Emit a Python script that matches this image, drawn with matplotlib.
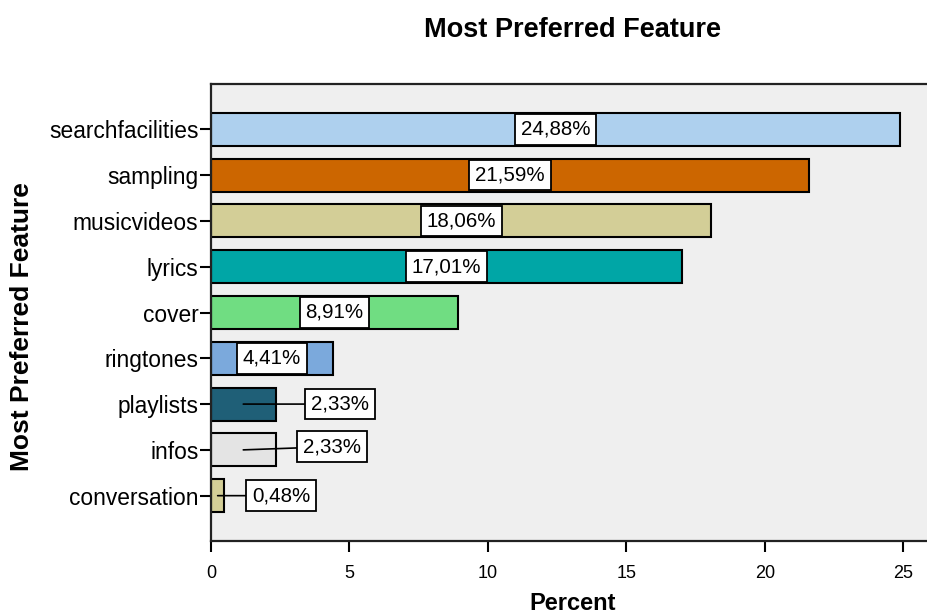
import matplotlib.pyplot as plt

plt.rcParams['font.family'] = ['Liberation Sans', 'DejaVu Sans']

features = ["searchfacilities", "sampling", "musicvideos", "lyrics", "cover",
            "ringtones", "playlists", "infos", "conversation"]
percent = [24.88, 21.59, 18.06, 17.01, 8.91, 4.41, 2.33, 2.33, 0.48]
colors = ["#aed0ee", "#cc6600", "#d3ce97", "#00a6a6", "#70dd82",
          "#7ba9dc", "#1f5f77", "#e4e4e4", "#d3ce97"]
# label positions for bars too short to hold their own label (x, y offset)
outside = {"playlists": (4.66, 0.0), "infos": (4.37, -0.07), "conversation": (2.53, 0.0)}

fig = plt.figure(figsize=(9.28, 6.15), dpi=100)
ax = fig.add_axes([211 / 928, 1 - 541 / 615, 1 - 211 / 928, (541 - 84) / 615])
ax.set_facecolor("#efefef")

ypos = list(range(len(features)))
ax.barh(ypos, percent, height=0.72, color=colors, edgecolor="black", linewidth=1.5, zorder=2)

box = dict(boxstyle="square,pad=0.28", fc="white", ec="black", lw=1.3)
for y, name, val in zip(ypos, features, percent):
    txt = f"{val:.2f}%".replace(".", ",")
    if name in outside:
        tx, dy = outside[name]
        ax.annotate(txt, xy=(val / 2, y), xytext=(tx, y + dy), ha="center", va="center",
                    fontsize=14.8, bbox=box, zorder=4,
                    arrowprops=dict(arrowstyle="-", color="black", lw=1.2, shrinkA=0, shrinkB=0))
    else:
        ax.text(val / 2, y, txt, ha="center", va="center", fontsize=14.8, bbox=box, zorder=4)

ax.set_xlim(0, (928 - 211) / 27.7)
ax.set_ylim(len(features) - 0.01, -0.99)
ax.set_yticks(ypos)
ax.set_yticklabels(features, fontsize=16.4)
ax.set_xticks([0, 5, 10, 15, 20, 25])
ax.tick_params(axis="x", labelsize=13, length=8, width=1.5, pad=9)
ax.tick_params(axis="y", length=8, width=1.5, pad=1)

for side in ["left", "bottom", "top"]:
    ax.spines[side].set_linewidth(1.6)
    ax.spines[side].set_color("#222222")
ax.spines["right"].set_visible(False)

fig.text(573 / 928, 1 - 604 / 615, "Percent", ha="center", va="center",
         fontsize=17, fontweight="bold")
fig.text(22 / 928, 1 - 327 / 615, "Most Preferred Feature", ha="center", va="center",
         rotation=90, fontsize=19, fontweight="bold")
fig.text(573 / 928, 1 - 30 / 615, "Most Preferred Feature", ha="center", va="center",
         fontsize=19.5, fontweight="bold")

fig.savefig("out.png", dpi=100)
